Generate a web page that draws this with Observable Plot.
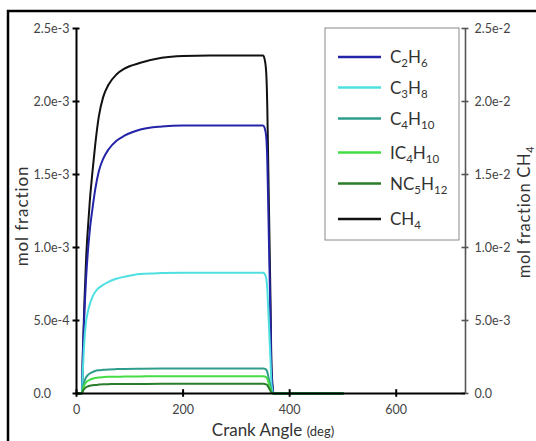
<!DOCTYPE html>
<html>
<head>
<meta charset="utf-8">
<script src="https://cdn.jsdelivr.net/npm/d3@7"></script>
<script src="https://cdn.jsdelivr.net/npm/@observablehq/plot@0.6"></script>
<style>
  html, body { margin: 0; padding: 0; background: #fff; }
  #chart svg { display: block; }
</style>
</head>
<body>
<div id="chart"></div>
<script>
// Crank angle samples (deg)
const angle = [0, 10, 12, 15, 18, 21, 25, 30, 35, 42, 50, 60, 75, 90, 120, 160, 200, 250, 300, 350,
               353, 356, 358, 360, 362, 364, 366, 370, 400, 450, 500];

// mol fractions, in units of 1e-3 (left axis)
const C2H6 = [0, 0, 0.275, 0.57, 0.79, 0.955, 1.12, 1.267, 1.395, 1.524, 1.607, 1.671, 1.731, 1.766, 1.808, 1.829, 1.836, 1.836, 1.836, 1.836,
              1.82, 1.76, 1.60, 1.25, 0.88, 0.52, 0.14, 0, 0, 0, 0];
const C3H8 = [0, 0, 0.165, 0.372, 0.496, 0.554, 0.612, 0.662, 0.695, 0.724, 0.744, 0.765, 0.786, 0.800, 0.819, 0.825, 0.827, 0.827, 0.827, 0.827,
              0.82, 0.79, 0.72, 0.56, 0.40, 0.23, 0.06, 0, 0, 0, 0];
const C4H10 = [0, 0, 0.043, 0.086, 0.111, 0.125, 0.137, 0.147, 0.154, 0.159, 0.162, 0.165, 0.167, 0.168, 0.170, 0.171, 0.171, 0.171, 0.171, 0.171,
               0.170, 0.163, 0.148, 0.115, 0.082, 0.048, 0.013, 0, 0, 0, 0];
const IC4H10 = [0, 0, 0.030, 0.059, 0.077, 0.086, 0.094, 0.101, 0.106, 0.110, 0.112, 0.114, 0.115, 0.116, 0.117, 0.118, 0.118, 0.118, 0.118, 0.118,
                0.117, 0.112, 0.102, 0.079, 0.056, 0.033, 0.009, 0, 0, 0, 0];
const NC5H12 = [0, 0, 0.017, 0.033, 0.043, 0.048, 0.053, 0.057, 0.059, 0.061, 0.063, 0.064, 0.0645, 0.065, 0.0655, 0.066, 0.066, 0.066, 0.066, 0.066,
                0.0655, 0.063, 0.057, 0.044, 0.031, 0.018, 0.005, 0, 0, 0, 0];
// CH4 mol fraction in units of 1e-2 (right axis)
const CH4 = [0, 0, 0.28, 0.64, 0.92, 1.11, 1.32, 1.52, 1.70, 1.90, 2.03, 2.115, 2.185, 2.225, 2.265, 2.300, 2.312, 2.315, 2.315, 2.315,
             2.29, 2.20, 1.97, 1.53, 1.09, 0.65, 0.18, 0, 0, 0, 0];

const seriesNames = ["CH4", "C2H6", "C3H8", "C4H10", "IC4H10", "NC5H12"];
const seriesColors = ["#111111", "#2424a8", "#4ee0e0", "#2f9d8c", "#45dd45", "#2a7d2a"];
const legendOrder = ["C2H6", "C3H8", "C4H10", "IC4H10", "NC5H12", "CH4"];

const xTicks = [0, 200, 400, 600];
const yTicks = [0, 5e-4, 1e-3, 1.5e-3, 2e-3, 2.5e-3];
const xMax = 730, yMax = 2.5e-3;

const seriesValues = {
  CH4: CH4.map(v => v * 1e-2 / 10),   // mapped onto left scale (right axis = 10x left)
  C2H6: C2H6.map(v => v * 1e-3),
  C3H8: C3H8.map(v => v * 1e-3),
  C4H10: C4H10.map(v => v * 1e-3),
  IC4H10: IC4H10.map(v => v * 1e-3),
  NC5H12: NC5H12.map(v => v * 1e-3)
};
const rows = seriesNames.flatMap(name => angle.map((a, i) => ({angle: a, value: seriesValues[name][i], series: name})));

const fmt = d => d === 0 ? "0.0" : d.toExponential(1);

const W = 536, H = 441;
const font = "Lato, 'Open Sans', sans-serif";
const chart = Plot.plot({
  width: W, height: H,
  marginLeft: 76, marginRight: 71, marginTop: 28, marginBottom: 48,
  style: {fontFamily: font, fontSize: "12.5px", color: "#444", background: "#fff", overflow: "visible"},
  x: {domain: [0, xMax]},
  y: {domain: [0, yMax]},
  color: {domain: seriesNames, range: seriesColors},
  marks: [
    Plot.axisX(xTicks, {tickSize: 0, tickPadding: 12, tickFormat: d => String(d), label: null, fill: "#444"}),
    Plot.axisY(yTicks, {anchor: "left", tickSize: 0, tickPadding: 0, textAnchor: "start", dx: -43, tickFormat: fmt, label: null, fill: "#444"}),
    Plot.axisY(yTicks, {anchor: "right", tickSize: 0, tickPadding: 9, tickFormat: d => fmt(+(d * 10).toPrecision(3)), label: null, fill: "#444"}),
    // right axis line + crossing ticks
    Plot.ruleX([xMax], {y1: 0, y2: yMax, stroke: "#555", strokeWidth: 1.6}),
    Plot.ruleY(yTicks, {y: d => d, x1: xMax - 6.5, x2: xMax + 6.5, stroke: "#555", strokeWidth: 1.6}),
    // series
    Plot.line(rows, {x: "angle", y: "value", z: "series", stroke: "series", strokeWidth: 2, curve: "monotone-x"}),
    // left axis line + crossing ticks
    Plot.ruleX([0], {y1: 0, y2: yMax, stroke: "#000", strokeWidth: 2}),
    Plot.ruleY(yTicks, {y: d => d, x1: -6.5, x2: 6.5, stroke: "#000", strokeWidth: 2}),
    // bottom axis line + crossing ticks
    Plot.ruleY([0], {x1: 0, x2: xMax, stroke: "#000", strokeWidth: 2}),
    Plot.ruleX(xTicks, {x: d => d, y1: -2.6e-5, y2: 2.6e-5, stroke: "#000", strokeWidth: 2})
  ]
});
document.getElementById("chart").appendChild(chart);

const svg = d3.select(chart);

// chemical formula with subscripts
function formula(textSel, str, subSize, shift) {
  const parts = str.match(/(\d+|\D+)/g);
  let down = false;
  parts.forEach(p => {
    const isSub = /^\d+$/.test(p);
    const t = textSel.append("tspan").text(p);
    if (isSub) {
      t.attr("font-size", subSize);
      if (!down) { t.attr("dy", shift); down = true; }
    } else if (down) { t.attr("dy", -shift); down = false; }
  });
}

// outer frame
svg.append("rect").attr("x", 8).attr("y", 11).attr("width", 560).attr("height", 460)
  .attr("fill", "none").attr("stroke", "#000").attr("stroke-width", 2.5);

// legend
const lg = svg.append("g").attr("font-family", font).attr("fill", "#333").attr("text-anchor", "start");
lg.append("rect").attr("x", 325).attr("y", 28).attr("width", 134).attr("height", 212)
  .attr("fill", "#fff").attr("stroke", "#8a8a8a").attr("stroke-width", 1);
const rowY = [57, 87.5, 118.5, 152.5, 183.5, 219];
legendOrder.forEach((name, i) => {
  const y = rowY[i];
  const c = seriesColors[seriesNames.indexOf(name)];
  lg.append("line").attr("x1", 338).attr("x2", 381).attr("y1", y).attr("y2", y)
    .attr("stroke", c).attr("stroke-width", 2.5);
  const t = lg.append("text").attr("x", 390).attr("y", y + 6).attr("font-size", 17)
    .attr("text-anchor", "start").attr("fill", "#333");
  formula(t, name, 11.5, 4);
});

// axis titles
svg.append("text").attr("transform", "translate(28,216) rotate(-90)")
  .attr("text-anchor", "middle").attr("font-family", font).attr("font-size", 17)
  .attr("letter-spacing", 0.9).attr("fill", "#333")
  .text("mol fraction");
const rt = svg.append("text").attr("transform", "translate(530,212) rotate(-90)")
  .attr("text-anchor", "middle").attr("font-family", font).attr("font-size", 16.5)
  .attr("letter-spacing", 0.7).attr("fill", "#333");
rt.append("tspan").text("mol fraction CH");
rt.append("tspan").attr("dy", 3.5).attr("font-size", 11).text("4");

const xt = svg.append("text").attr("x", 273).attr("y", 436)
  .attr("text-anchor", "middle").attr("font-family", font).attr("fill", "#333");
xt.append("tspan").attr("font-size", 17).text("Crank Angle ");
xt.append("tspan").attr("font-size", 13).text("(deg)");
</script>
</body>
</html>
